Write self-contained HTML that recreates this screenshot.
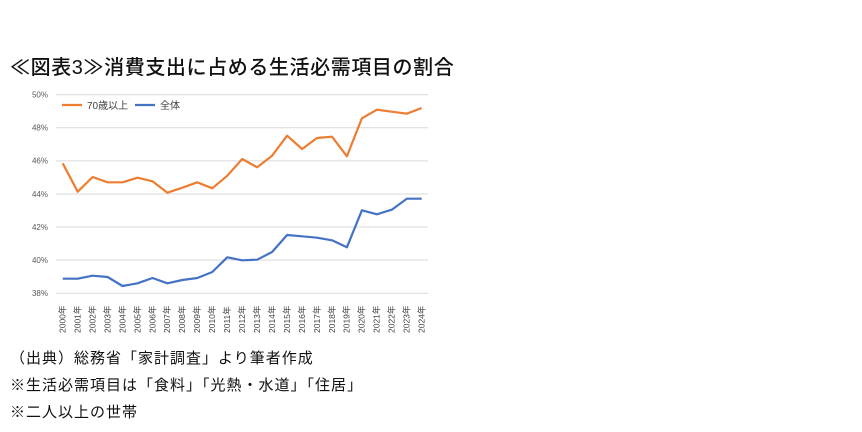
<!DOCTYPE html>
<html><head><meta charset="utf-8"><style>
body{margin:0;width:862px;height:432px;background:#fff;overflow:hidden;font-family:"Liberation Sans","Noto Sans CJK JP",sans-serif;}
.t{position:absolute;left:10px;top:51px;font-size:20px;letter-spacing:0.6px;color:#111;font-weight:500;}
.n{position:absolute;left:10px;font-size:15px;letter-spacing:1px;color:#111;}
</style></head><body>
<div class="t">≪図表3≫消費支出に占める生活必需項目の割合</div>
<svg style="position:absolute;left:0;top:0" width="862" height="432">
<g stroke="#d9d9d9" stroke-width="1">
<line x1="56" x2="428" y1="94.7" y2="94.7"/><line x1="56" x2="428" y1="127.8" y2="127.8"/><line x1="56" x2="428" y1="160.9" y2="160.9"/><line x1="56" x2="428" y1="194" y2="194"/><line x1="56" x2="428" y1="227" y2="227"/><line x1="56" x2="428" y1="260" y2="260"/><line x1="56" x2="428" y1="293.3" y2="293.3"/>
</g>
<g font-size="8" fill="#595959" text-anchor="end" font-family="Liberation Sans,sans-serif">
<text x="48" y="97.5">50%</text><text x="48" y="130.6">48%</text><text x="48" y="163.7">46%</text><text x="48" y="196.8">44%</text><text x="48" y="229.8">42%</text><text x="48" y="262.8">40%</text><text x="48" y="296">38%</text>
</g>
<polyline fill="none" stroke="#ed7d31" stroke-width="2.2" stroke-linejoin="round" points="62.7,163.3 77.7,191.7 92.6,177 107.6,182.3 122.5,182.3 137.5,177.7 152.5,181.3 167.4,192.7 182.4,187.7 197.3,182.3 212.3,188.3 227.3,175.7 242.2,159 257.2,167.3 272.1,155.7 287.1,135.7 302.1,149 317,138 332,136.7 346.9,156.3 361.9,118.3 376.9,109.7 391.8,111.7 406.8,113.7 421.7,108"/>
<polyline fill="none" stroke="#4472c4" stroke-width="2.2" stroke-linejoin="round" points="62.7,278.7 77.7,278.7 92.6,275.7 107.6,277 122.5,286 137.5,283.3 152.5,278 167.4,283.3 182.4,280 197.3,278 212.3,272 227.3,257.3 242.2,260.3 257.2,259.7 272.1,252 287.1,235 302.1,236.3 317,237.7 332,240.3 346.9,247.3 361.9,210.3 376.9,214.3 391.8,209.7 406.8,198.7 421.7,198.7"/>
<line x1="62" x2="82" y1="105" y2="105" stroke="#ed7d31" stroke-width="2.2"/>
<text x="87" y="109" font-size="10" fill="#404040">70歳以上</text>
<line x1="135" x2="155" y1="105" y2="105" stroke="#4472c4" stroke-width="2.2"/>
<text x="160" y="109" font-size="10" fill="#404040">全体</text>
<g font-size="8.5" fill="#404040">
<text transform="translate(65.5,333) rotate(-90)">2000年</text><text transform="translate(80.5,333) rotate(-90)">2001年</text><text transform="translate(95.4,333) rotate(-90)">2002年</text><text transform="translate(110.4,333) rotate(-90)">2003年</text><text transform="translate(125.3,333) rotate(-90)">2004年</text><text transform="translate(140.3,333) rotate(-90)">2005年</text><text transform="translate(155.3,333) rotate(-90)">2006年</text><text transform="translate(170.2,333) rotate(-90)">2007年</text><text transform="translate(185.2,333) rotate(-90)">2008年</text><text transform="translate(200.1,333) rotate(-90)">2009年</text><text transform="translate(215.1,333) rotate(-90)">2010年</text><text transform="translate(230.1,333) rotate(-90)">2011年</text><text transform="translate(245,333) rotate(-90)">2012年</text><text transform="translate(260,333) rotate(-90)">2013年</text><text transform="translate(274.9,333) rotate(-90)">2014年</text><text transform="translate(289.9,333) rotate(-90)">2015年</text><text transform="translate(304.9,333) rotate(-90)">2016年</text><text transform="translate(319.8,333) rotate(-90)">2017年</text><text transform="translate(334.8,333) rotate(-90)">2018年</text><text transform="translate(349.7,333) rotate(-90)">2019年</text><text transform="translate(364.7,333) rotate(-90)">2020年</text><text transform="translate(379.7,333) rotate(-90)">2021年</text><text transform="translate(394.6,333) rotate(-90)">2022年</text><text transform="translate(409.6,333) rotate(-90)">2023年</text><text transform="translate(424.5,333) rotate(-90)">2024年</text>
</g>
</svg>
<div class="n" style="top:347px">（出典）総務省「家計調査」より筆者作成</div>
<div class="n" style="top:374px">※生活必需項目は「食料」「光熱・水道」「住居」</div>
<div class="n" style="top:401px">※二人以上の世帯</div>
</body></html>
